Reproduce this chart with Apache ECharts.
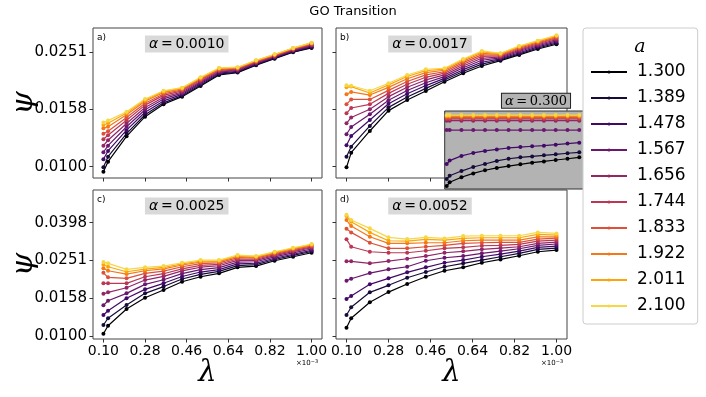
<!DOCTYPE html>
<html>
<head>
<meta charset="utf-8">
<script src="https://cdn.jsdelivr.net/npm/echarts@6/dist/echarts.min.js"></script>
<style>
  html, body { margin: 0; padding: 0; background: #fff; }
  #chart { width: 706px; height: 397px; }
</style>
</head>
<body>
<div id="chart"></div>
<script>
// lambda values (x, in units of 1e-3)
var lambdaValues = [0.10, 0.12, 0.20, 0.28, 0.36, 0.44, 0.52, 0.60, 0.68, 0.76, 0.84, 0.92, 1.00]
var aLabels = ['1.300', '1.389', '1.478', '1.567', '1.656', '1.744', '1.833', '1.922', '2.011', '2.100']
var xTickValues = [0.10, 0.28, 0.46, 0.64, 0.82, 1.00]
var yTickValues = [0.01, 0.015849, 0.025119, 0.039811]

// alpha = 0.0010
var psiA = [
  [0.00961, 0.01041, 0.01277, 0.01496, 0.01652, 0.01757, 0.01914, 0.02092, 0.02132, 0.02262, 0.02385, 0.02512, 0.02600],
  [0.00995, 0.01084, 0.01305, 0.01519, 0.01672, 0.01771, 0.01929, 0.02105, 0.02142, 0.02272, 0.02395, 0.02521, 0.02612],
  [0.01062, 0.01135, 0.01342, 0.01550, 0.01698, 0.01789, 0.01948, 0.02122, 0.02155, 0.02285, 0.02406, 0.02533, 0.02628],
  [0.01123, 0.01184, 0.01379, 0.01581, 0.01725, 0.01807, 0.01967, 0.02139, 0.02169, 0.02298, 0.02418, 0.02545, 0.02644],
  [0.01184, 0.01237, 0.01416, 0.01611, 0.01750, 0.01824, 0.01985, 0.02154, 0.02181, 0.02310, 0.02429, 0.02557, 0.02659],
  [0.01247, 0.01288, 0.01453, 0.01641, 0.01775, 0.01841, 0.02004, 0.02170, 0.02193, 0.02322, 0.02440, 0.02568, 0.02673],
  [0.01304, 0.01330, 0.01485, 0.01667, 0.01796, 0.01856, 0.02019, 0.02183, 0.02204, 0.02333, 0.02450, 0.02578, 0.02685],
  [0.01362, 0.01380, 0.01518, 0.01693, 0.01818, 0.01871, 0.02034, 0.02197, 0.02214, 0.02343, 0.02460, 0.02588, 0.02698],
  [0.01399, 0.01419, 0.01541, 0.01711, 0.01833, 0.01881, 0.02045, 0.02207, 0.02222, 0.02350, 0.02466, 0.02595, 0.02707],
  [0.01427, 0.01449, 0.01557, 0.01725, 0.01843, 0.01889, 0.02054, 0.02214, 0.02227, 0.02355, 0.02471, 0.02600, 0.02713]
]

// alpha = 0.0017
var psiB = [
  [0.00995, 0.01119, 0.01333, 0.01570, 0.01710, 0.01839, 0.01982, 0.02121, 0.02249, 0.02347, 0.02458, 0.02579, 0.02679],
  [0.01084, 0.01175, 0.01388, 0.01612, 0.01752, 0.01878, 0.02008, 0.02151, 0.02282, 0.02364, 0.02479, 0.02600, 0.02703],
  [0.01188, 0.01280, 0.01456, 0.01659, 0.01798, 0.01921, 0.02036, 0.02183, 0.02318, 0.02382, 0.02502, 0.02623, 0.02728],
  [0.01298, 0.01376, 0.01525, 0.01707, 0.01846, 0.01965, 0.02065, 0.02216, 0.02355, 0.02401, 0.02526, 0.02646, 0.02754],
  [0.01418, 0.01486, 0.01588, 0.01757, 0.01895, 0.02010, 0.02094, 0.02249, 0.02392, 0.02419, 0.02550, 0.02668, 0.02780],
  [0.01537, 0.01604, 0.01652, 0.01804, 0.01942, 0.02053, 0.02122, 0.02281, 0.02427, 0.02437, 0.02572, 0.02690, 0.02805],
  [0.01652, 0.01718, 0.01718, 0.01848, 0.01985, 0.02093, 0.02147, 0.02310, 0.02459, 0.02453, 0.02593, 0.02710, 0.02827],
  [0.01791, 0.01825, 0.01780, 0.01893, 0.02029, 0.02133, 0.02173, 0.02339, 0.02492, 0.02469, 0.02614, 0.02730, 0.02850],
  [0.01895, 0.01905, 0.01810, 0.01931, 0.02066, 0.02167, 0.02194, 0.02364, 0.02520, 0.02483, 0.02631, 0.02747, 0.02868],
  [0.01926, 0.01918, 0.01842, 0.01957, 0.02092, 0.02191, 0.02208, 0.02380, 0.02538, 0.02491, 0.02642, 0.02758, 0.02880]
]

// alpha = 0.0025
var psiC = [
  [0.01028, 0.01133, 0.01390, 0.01594, 0.01751, 0.01937, 0.02060, 0.02147, 0.02309, 0.02346, 0.02502, 0.02628, 0.02759],
  [0.01143, 0.01241, 0.01459, 0.01682, 0.01827, 0.02003, 0.02121, 0.02198, 0.02360, 0.02388, 0.02542, 0.02670, 0.02802],
  [0.01291, 0.01361, 0.01583, 0.01766, 0.01901, 0.02066, 0.02181, 0.02246, 0.02408, 0.02428, 0.02580, 0.02709, 0.02842],
  [0.01453, 0.01537, 0.01682, 0.01877, 0.01986, 0.02140, 0.02248, 0.02302, 0.02463, 0.02472, 0.02623, 0.02755, 0.02888],
  [0.01672, 0.01703, 0.01801, 0.01978, 0.02069, 0.02211, 0.02313, 0.02355, 0.02515, 0.02515, 0.02663, 0.02797, 0.02932],
  [0.01900, 0.01900, 0.01900, 0.02060, 0.02137, 0.02268, 0.02365, 0.02397, 0.02557, 0.02549, 0.02696, 0.02831, 0.02965],
  [0.02160, 0.02045, 0.02020, 0.02147, 0.02207, 0.02327, 0.02419, 0.02440, 0.02599, 0.02583, 0.02728, 0.02865, 0.03000],
  [0.02282, 0.02216, 0.02128, 0.02216, 0.02266, 0.02376, 0.02463, 0.02476, 0.02635, 0.02611, 0.02756, 0.02894, 0.03029],
  [0.02383, 0.02326, 0.02189, 0.02262, 0.02306, 0.02410, 0.02493, 0.02500, 0.02659, 0.02631, 0.02773, 0.02912, 0.03047],
  [0.02463, 0.02425, 0.02254, 0.02309, 0.02346, 0.02442, 0.02523, 0.02523, 0.02683, 0.02650, 0.02793, 0.02933, 0.03067]
]

// alpha = 0.0052
var psiD = [
  [0.01106, 0.01241, 0.01508, 0.01708, 0.01884, 0.02060, 0.02216, 0.02309, 0.02442, 0.02545, 0.02660, 0.02793, 0.02851],
  [0.01291, 0.01419, 0.01703, 0.01855, 0.02034, 0.02181, 0.02326, 0.02425, 0.02523, 0.02628, 0.02739, 0.02876, 0.02922],
  [0.01570, 0.01628, 0.01877, 0.02020, 0.02173, 0.02309, 0.02442, 0.02523, 0.02628, 0.02716, 0.02817, 0.02947, 0.02994],
  [0.01962, 0.02010, 0.02154, 0.02254, 0.02326, 0.02502, 0.02596, 0.02650, 0.02739, 0.02817, 0.02897, 0.03019, 0.03069],
  [0.02484, 0.02484, 0.02425, 0.02493, 0.02564, 0.02650, 0.02759, 0.02806, 0.02876, 0.02922, 0.02969, 0.03095, 0.03144],
  [0.03248, 0.02969, 0.02793, 0.02759, 0.02759, 0.02828, 0.02911, 0.02947, 0.03005, 0.03019, 0.03056, 0.03182, 0.03221],
  [0.03695, 0.03537, 0.03117, 0.02911, 0.02911, 0.02969, 0.03019, 0.03095, 0.03117, 0.03132, 0.03132, 0.03260, 0.03300],
  [0.04110, 0.03819, 0.03352, 0.03095, 0.03095, 0.03117, 0.03117, 0.03194, 0.03221, 0.03221, 0.03221, 0.03352, 0.03352],
  [0.04314, 0.04025, 0.03537, 0.03194, 0.03182, 0.03248, 0.03221, 0.03287, 0.03313, 0.03313, 0.03313, 0.03452, 0.03424],
  [0.04384, 0.04110, 0.03715, 0.03329, 0.03260, 0.03329, 0.03287, 0.03382, 0.03395, 0.03395, 0.03395, 0.03537, 0.03493]
]

// inset, alpha = 0.300 (no axis labels in the original)
var psiInset = [
  [0.0119, 0.0143, 0.0175, 0.0200, 0.0220, 0.0235, 0.0247, 0.0258, 0.0269, 0.0277, 0.0286, 0.0294, 0.0303],
  [0.0164, 0.0185, 0.0215, 0.0241, 0.0260, 0.0280, 0.0294, 0.0303, 0.0309, 0.0316, 0.0322, 0.0329, 0.0335],
  [0.0260, 0.0282, 0.0312, 0.0331, 0.0344, 0.0354, 0.0363, 0.0369, 0.0374, 0.0378, 0.0384, 0.0391, 0.0397],
  [0.0478, 0.0478, 0.0478, 0.0478, 0.0478, 0.0478, 0.0478, 0.0478, 0.0478, 0.0478, 0.0478, 0.0478, 0.0478],
  [0.0538, 0.0538, 0.0538, 0.0538, 0.0538, 0.0538, 0.0538, 0.0538, 0.0538, 0.0538, 0.0538, 0.0538, 0.0538],
  [0.0549, 0.0549, 0.0549, 0.0549, 0.0549, 0.0549, 0.0549, 0.0549, 0.0549, 0.0549, 0.0549, 0.0549, 0.0549],
  [0.0557, 0.0557, 0.0557, 0.0557, 0.0557, 0.0557, 0.0557, 0.0557, 0.0557, 0.0557, 0.0557, 0.0557, 0.0557],
  [0.0564, 0.0564, 0.0564, 0.0564, 0.0564, 0.0564, 0.0564, 0.0564, 0.0564, 0.0564, 0.0564, 0.0564, 0.0564],
  [0.0570, 0.0570, 0.0570, 0.0570, 0.0570, 0.0570, 0.0570, 0.0570, 0.0570, 0.0570, 0.0570, 0.0570, 0.0570],
  [0.0574, 0.0574, 0.0574, 0.0574, 0.0574, 0.0574, 0.0574, 0.0574, 0.0574, 0.0574, 0.0574, 0.0574, 0.0574]
]

// inferno at 0.0 .. 0.9
var colors = ['#000004', '#170b3a', '#420a68', '#6a176e', '#932667', '#bc3754', '#dd513a', '#f37819', '#fca50a', '#f6d746']

var font = 'DejaVu Sans'

var panels = [
  { tag: 'a)', alpha: '0.0010', data: psiA, grid: { left: 93, top: 28, width: 229, height: 150 }, yMin: 0.00913, yMax: 0.03053, xLabels: false, yLabels: true },
  { tag: 'b)', alpha: '0.0017', data: psiB, grid: { left: 336, top: 28, width: 231, height: 150 }, yMin: 0.00913, yMax: 0.03053, xLabels: false, yLabels: false },
  { tag: 'c)', alpha: '0.0025', data: psiC, grid: { left: 93, top: 190, width: 229, height: 149 }, yMin: 0.00964, yMax: 0.0593, xLabels: true, yLabels: true },
  { tag: 'd)', alpha: '0.0052', data: psiD, grid: { left: 336, top: 190, width: 231, height: 149 }, yMin: 0.00964, yMax: 0.0593, xLabels: true, yLabels: false }
]

var grids = []
var xAxes = []
var yAxes = []
var series = []
var graphics = []

panels.forEach(function (p, pi) {
  grids.push(Object.assign({ show: true, borderColor: '#444', borderWidth: 1, backgroundColor: '#fff' }, p.grid))
  var yTicks = yTickValues.filter(function (v) { return v >= p.yMin && v <= p.yMax })
  xAxes.push({
    type: 'value', gridIndex: pi, min: 0.055, max: 1.045,
    axisLine: { show: false },
    splitLine: { show: false },
    axisTick: { show: true, inside: false, length: 3.5, lineStyle: { color: '#333' }, customValues: xTickValues },
    axisLabel: {
      show: p.xLabels, margin: 5, fontSize: 14, color: '#000', fontFamily: font,
      customValues: xTickValues,
      formatter: function (v) { return v.toFixed(2) }
    },
    name: p.xLabels ? 'λ' : '',
    nameLocation: 'middle', nameGap: 17,
    nameTextStyle: { fontSize: 29, fontStyle: 'italic', fontFamily: 'DejaVu Serif', color: '#000' }
  })
  yAxes.push({
    type: 'log', logBase: 10, gridIndex: pi, min: p.yMin, max: p.yMax,
    axisLine: { show: false },
    splitLine: { show: false },
    minorTick: { show: false },
    axisTick: { show: true, inside: false, length: 3.5, lineStyle: { color: '#333' }, customValues: yTicks },
    axisLabel: {
      show: p.yLabels, margin: 6, fontSize: 15, color: '#000', fontFamily: font,
      customValues: yTicks,
      formatter: function (v) { return v.toFixed(4) }
    }
  })
  p.data.forEach(function (row, k) {
    series.push({
      type: 'line', name: aLabels[k], xAxisIndex: pi, yAxisIndex: pi,
      data: lambdaValues.map(function (x, i) { return [x, row[i]] }),
      symbol: 'circle', symbolSize: 4, showSymbol: true,
      lineStyle: { width: 1.2, color: colors[k] },
      itemStyle: { color: colors[k] },
      z: 2
    })
  })
  var g = p.grid
  if (p.yLabels) {
    // y axis title, lying on its side like the original
    graphics.push({
      type: 'text', x: 24, y: g.top + g.height / 2, rotation: Math.PI / 2, z: 5,
      style: { text: 'ψ', font: 'italic 30px DejaVu Serif', fill: '#000', align: 'center', verticalAlign: 'middle' }
    })
  }
  graphics.push({
    type: 'text', left: g.left + 4, top: g.top + 5, z: 5,
    style: { text: p.tag, font: '9px ' + font, fill: '#000' }
  })
  graphics.push({
    type: 'text', x: g.left + (pi % 2 === 0 ? 93.7 : 94), y: g.top + 16, z: 5,
    style: {
      text: '{i|α}\u2009=\u2009' + p.alpha,
      align: 'center', verticalAlign: 'middle',
      font: '14px ' + font, fill: '#000',
      backgroundColor: '#d9d9d9', padding: [2, 4, 1, 4],
      rich: { i: { font: 'italic 14px ' + font, fill: '#000' } }
    }
  })
  if (p.xLabels) {
    graphics.push({
      type: 'text', x: g.left + g.width - 26, y: g.top + g.height + 20, z: 5,
      style: {
        text: '×10{s|−3}', font: '7px ' + font, fill: '#000',
        rich: { s: { font: '5px ' + font, fill: '#000', verticalAlign: 'top', padding: [0, 0, 3, 0] } }
      }
    })
  }
})

// inset grid (alpha = 0.300)
var insetIndex = panels.length
grids.push({ show: true, left: 444.7, top: 111, width: 139, height: 78, backgroundColor: '#b3b3b3', borderColor: '#333', borderWidth: 1, z: 10 })
xAxes.push({ type: 'value', gridIndex: insetIndex, min: 0.0864, max: 1.030, show: false })
yAxes.push({ type: 'value', gridIndex: insetIndex, min: 0.010, max: 0.060, show: false })
psiInset.forEach(function (row, k) {
  series.push({
    type: 'line', name: aLabels[k], xAxisIndex: insetIndex, yAxisIndex: insetIndex,
    data: lambdaValues.map(function (x, i) { return [x, row[i]] }),
    symbol: 'circle', symbolSize: 4,
    lineStyle: { width: 1.2, color: colors[k] },
    itemStyle: { color: colors[k] },
    z: 11
  })
})
graphics.push({
  type: 'text', x: 536, y: 100.8, z: 12,
  style: {
    text: '{i|α}\u2009=\u20090.300', align: 'center', verticalAlign: 'middle',
    font: '13px DejaVu Serif', fill: '#000',
    backgroundColor: '#b3b3b3', borderColor: '#222', borderWidth: 1, padding: [1, 3, 0, 3],
    rich: { i: { font: 'italic 13px DejaVu Serif', fill: '#000' } }
  }
})
// legend title
graphics.push({
  type: 'text', x: 640, y: 47, z: 30,
  style: { text: 'a', font: 'italic 19px DejaVu Serif', fill: '#000', align: 'center', verticalAlign: 'middle' }
})

var option = {
  animation: false,
  backgroundColor: '#fff',
  title: {
    text: 'GO Transition', left: 'center', top: 5, padding: 0,
    textStyle: { fontSize: 13, fontWeight: 'normal', fontFamily: font, color: '#000' }
  },
  legend: {
    data: aLabels, orient: 'vertical', left: 583, top: 28,
    padding: [34, 12, 8, 7],
    itemWidth: 36, itemHeight: 4, itemGap: 6,
    textStyle: { fontSize: 17, lineHeight: 20, fontFamily: font, color: '#000', padding: [0, 0, 0, 5] },
    backgroundColor: '#fff', borderColor: '#ccc', borderWidth: 1, borderRadius: 3,
    selectedMode: false, z: 20
  },
  grid: grids,
  xAxis: xAxes,
  yAxis: yAxes,
  series: series,
  graphic: graphics
}

var myChart = echarts.init(document.getElementById('chart'))
myChart.setOption(option, true)
</script>
</body>
</html>
